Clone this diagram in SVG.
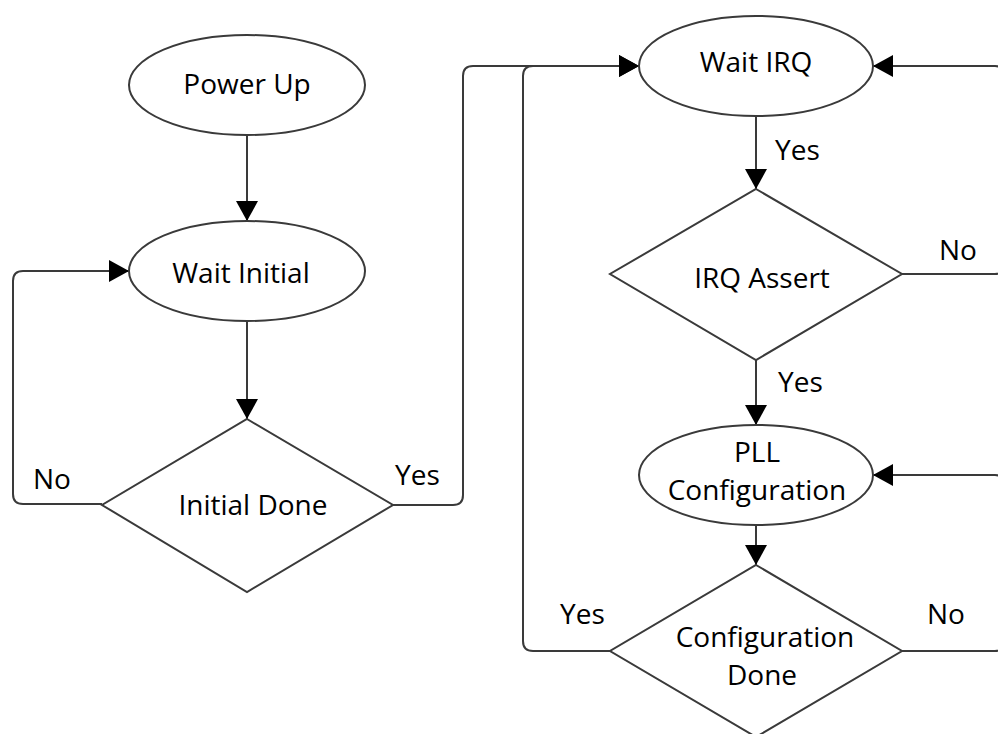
<svg xmlns="http://www.w3.org/2000/svg" width="998" height="734" viewBox="0 0 998 734">
<style>
.shape{fill:#ffffff;stroke:#3a3a3a;stroke-width:2}
.conn{fill:none;stroke:#3a3a3a;stroke-width:2}
text{font-family:"Open Sans","Noto Sans","Liberation Sans",sans-serif;font-size:28px;fill:#000}
.c{text-anchor:middle}
</style>
<defs>
<marker id="arr" markerUnits="userSpaceOnUse" markerWidth="20" markerHeight="22" refX="20" refY="11" orient="auto">
<path d="M0,0 L20,11 L0,22 Z" fill="#000"/>
</marker>
</defs>
<rect width="998" height="734" fill="#ffffff"/>
<g id="connectors">
<path class="conn" d="M247 135 V221" marker-end="url(#arr)"/>
<path class="conn" d="M247 321 V419" marker-end="url(#arr)"/>
<path class="conn" d="M102 504 H23 Q13 504 13 494 V281 Q13 271 23 271 H129" marker-end="url(#arr)"/>
<path class="conn" d="M393 505 H453 Q463 505 463 495 V76 Q463 66 473 66 H639" marker-end="url(#arr)"/>
<path class="conn" d="M610 651 H533 Q523 651 523 641 V76 Q523 66 533 66 H639" marker-end="url(#arr)"/>
<path class="conn" d="M756 116 V189" marker-end="url(#arr)"/>
<path class="conn" d="M902 274 H995 Q1003 274 1003 266 V74 Q1003 66 995 66 H873" marker-end="url(#arr)"/>
<path class="conn" d="M756 360 V425" marker-end="url(#arr)"/>
<path class="conn" d="M756 525 V565" marker-end="url(#arr)"/>
<path class="conn" d="M902 651 H995 Q1003 651 1003 643 V483 Q1003 475 995 475 H873" marker-end="url(#arr)"/>
<text x="33" y="489">No</text>
<text x="395" y="485">Yes</text>
<text x="775" y="160">Yes</text>
<text x="939" y="260">No</text>
<text x="778" y="392">Yes</text>
<text x="560" y="624">Yes</text>
<text x="927" y="624">No</text>
</g>
<g id="power-up">
<ellipse class="shape" cx="247" cy="85" rx="118" ry="50"/>
<text class="c" x="247" y="94">Power Up</text>
</g>
<g id="wait-initial">
<ellipse class="shape" cx="247" cy="271" rx="118" ry="50"/>
<text class="c" x="241" y="283">Wait Initial</text>
</g>
<g id="initial-done">
<polygon class="shape" points="247,419 393,505 247,592 102,505"/>
<text class="c" x="253" y="515">Initial Done</text>
</g>
<g id="wait-irq">
<ellipse class="shape" cx="756" cy="66" rx="117" ry="50"/>
<text class="c" x="756" y="72">Wait IRQ</text>
</g>
<g id="irq-assert">
<polygon class="shape" points="756,189 902,274 756,360 610,274"/>
<text class="c" x="762" y="288">IRQ Assert</text>
</g>
<g id="pll-configuration">
<ellipse class="shape" cx="756" cy="475" rx="117" ry="50"/>
<text class="c" x="757" y="462">PLL</text>
<text class="c" x="757" y="500">Configuration</text>
</g>
<g id="configuration-done">
<polygon class="shape" points="756,565 902,651 756,737 610,651"/>
<text class="c" x="765" y="647">Configuration</text>
<text class="c" x="762" y="685">Done</text>
</g>
</svg>
